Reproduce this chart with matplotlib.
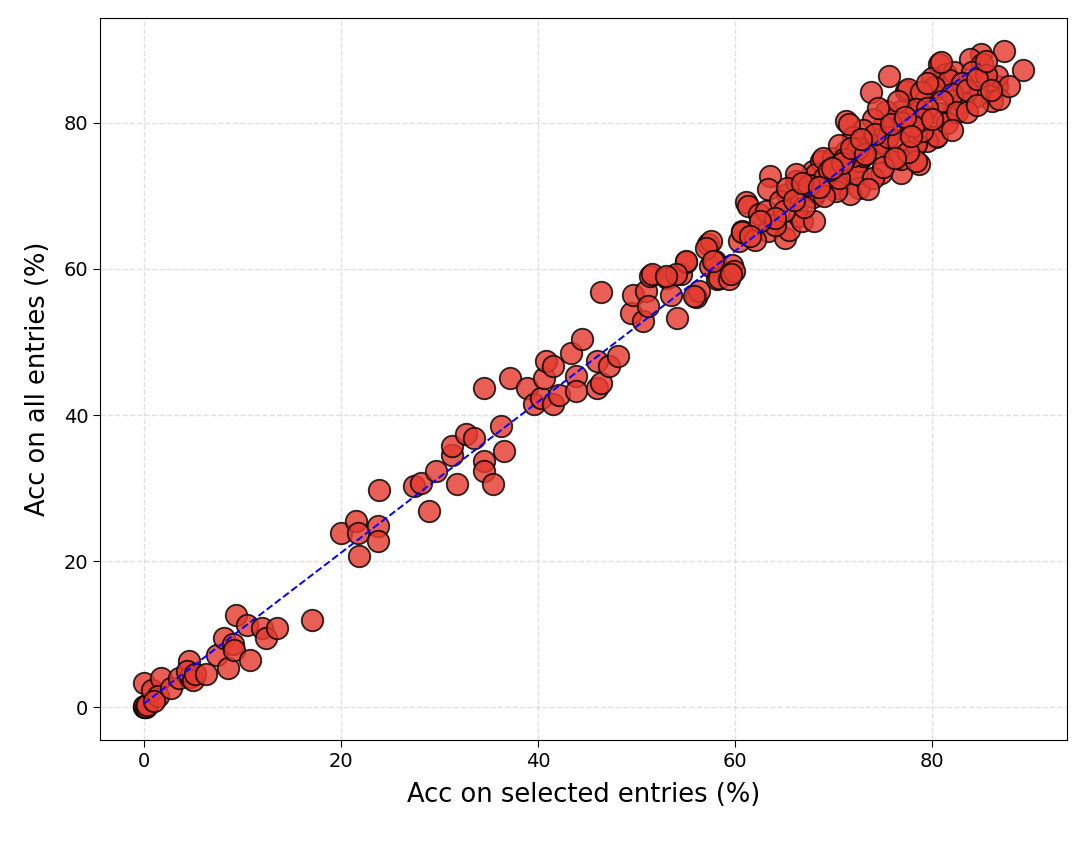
import matplotlib
matplotlib.use("Agg")
import matplotlib.pyplot as plt
import numpy as np

# accuracy on selected entries (x) vs accuracy on all entries (y)
acc_selected = [
    0.0, 0.1, 0.0, 0.2, 0.3, 0.0, 0.8, 1.7, 1.4, 1.0, 2.7, 3.6, 4.6, 4.7, 4.4, 5.0, 5.2, 6.3,
    7.4, 8.1, 8.5, 9.0, 9.3, 9.1, 10.8, 10.5, 12.0, 12.4, 13.5, 17.1,
    20.0, 21.5, 21.7, 21.8, 23.7, 23.7, 23.9, 27.4, 28.1, 28.9, 29.6, 31.3, 31.3, 31.8,
    32.7, 33.5, 34.5, 34.5, 35.4, 34.5, 36.2, 36.5, 37.1, 38.9, 39.6, 40.3, 41.5, 40.6,
    40.8, 41.5, 42.1, 43.3, 43.8, 43.8, 44.5, 46.0, 46.0, 46.4, 47.2, 48.1, 46.4, 49.4,
    49.6, 50.9, 50.6, 51.1, 51.4,
    51.6, 53.1, 53.5, 54.1, 54.5, 55.0, 56.0, 56.3, 57.2, 57.5, 57.4, 57.9, 58.2, 58.4,
    59.4, 59.7, 59.9, 60.4, 60.7, 61.1, 61.3, 62.4, 63.3, 63.1, 63.5, 63.3, 65.1, 65.5,
    65.3, 64.5, 66.2, 66.5, 66.8, 68.0, 67.9, 68.2, 67.9, 68.7, 69.9, 70.4, 71.2, 71.9, 69.9,
    55.8, 55.0, 54.0, 53.0, 57.0, 57.7, 59.6, 60.7,
    89.2, 87.3, 86.6, 86.1, 84.4, 84.9, 83.8, 80.7, 81.4, 80.0, 75.6, 73.8, 77.3, 78.7,
    80.4, 82.4, 82.1, 80.7, 78.7, 76.8, 75.3, 80.4, 79.5, 78.2, 78.7, 76.8, 76.8, 74.8,
    74.9, 76.0, 77.3, 73.6, 72.6, 72.6, 71.6, 72.4, 71.2, 71.2, 70.2, 68.2, 68.9, 66.2, 65.3,
    86.6, 83.1, 82.2, 81.7, 80.9, 80.2, 77.5, 78.9, 78.3, 80.5, 78.3, 75.3, 78.3, 76.0, 79.0,
    86.8, 87.8, 85.0, 84.0, 83.0, 82.0, 81.0, 79.5, 77.0, 75.0, 74.0, 73.0, 72.0, 71.5,
    70.5, 70.0, 69.0, 74.5, 75.5, 76.5, 73.0, 74.0, 72.0, 79.0, 81.5, 82.5, 83.5, 85.5,
    84.5, 62.0, 64.0, 65.0, 67.0, 69.0, 70.5, 73.5, 75.0, 77.5, 78.0, 80.0, 82.0, 83.5,
    84.5, 86.0, 85.5, 79.5, 76.5, 74.5, 72.5, 71.0, 69.5, 67.5, 66.0, 64.0, 62.5, 61.5,
    70.8, 71.8, 73.2, 74.2, 75.8, 77.2, 66.8, 68.5, 69.8, 72.8, 76.2, 77.8,
]
acc_all = [
    0.0, 0.0, 0.2, 0.1, 0.3, 3.3, 2.4, 4.0, 1.5, 0.8, 2.6, 4.0, 6.3, 4.2, 4.9, 3.8, 4.5, 4.5,
    7.2, 9.5, 5.4, 8.6, 12.7, 7.9, 6.5, 11.3, 10.9, 9.5, 10.9, 12.0,
    23.9, 25.5, 23.9, 20.7, 24.8, 22.7, 29.8, 30.3, 30.7, 26.8, 32.3, 34.6, 35.8, 30.5,
    37.4, 36.9, 33.7, 32.3, 30.6, 43.7, 38.5, 35.1, 45.1, 43.7, 41.5, 42.4, 41.5, 45.1,
    47.4, 46.7, 42.8, 48.5, 45.3, 43.3, 50.4, 47.4, 43.7, 44.4, 46.7, 48.1, 56.8, 54.0,
    56.5, 57.0, 52.9, 54.9, 59.0,
    59.3, 58.8, 56.5, 53.3, 59.3, 60.9, 56.1, 57.0, 63.4, 63.8, 60.4, 61.1, 58.6, 58.8,
    58.6, 60.6, 59.7, 63.8, 65.2, 69.1, 68.6, 67.5, 65.2, 67.9, 72.7, 70.9, 64.3, 65.4,
    70.2, 69.3, 72.1, 67.3, 66.6, 66.6, 69.8, 70.5, 73.4, 74.8, 71.6, 71.1, 72.5, 73.4, 75.2,
    56.3, 61.1, 59.3, 59.0, 62.9, 61.1, 59.3, 65.0,
    87.3, 89.9, 85.1, 83.0, 83.7, 89.4, 88.7, 88.1, 86.7, 86.2, 86.4, 84.2, 84.4, 83.5,
    84.6, 83.2, 81.4, 81.4, 81.6, 81.6, 81.6, 78.0, 77.5, 77.1, 74.3, 73.2, 75.0, 73.2,
    77.1, 79.1, 78.9, 77.1, 74.8, 71.1, 70.2, 73.0, 76.2, 80.3, 70.7, 73.0, 75.2, 73.0, 71.1,
    86.4, 82.8, 86.9, 85.8, 88.3, 84.9, 84.6, 84.2, 81.9, 78.2, 77.1, 77.1, 74.8, 75.2, 78.9,
    83.3, 85.1, 88.0, 87.0, 85.5, 84.0, 83.0, 82.0, 80.0, 79.5, 80.5, 79.0, 78.0, 79.8,
    77.0, 74.0, 72.5, 76.0, 78.0, 77.5, 75.5, 72.5, 75.5, 80.5, 80.0, 81.5, 84.5, 86.5,
    86.0, 64.0, 66.0, 68.0, 68.5, 70.0, 72.5, 71.0, 74.0, 76.0, 79.5, 80.5, 79.0, 81.5,
    82.5, 84.5, 88.5, 85.5, 83.0, 82.0, 76.5, 75.0, 73.5, 71.5, 69.5, 67.0, 66.5, 64.5,
    74.5, 76.5, 75.8, 78.5, 79.8, 80.8, 71.8, 71.2, 73.8, 77.8, 75.2, 78.2,
]

# dashed reference line endpoints
line_x = [0.0, 84.8]
line_y = [0.5, 88.1]

fig = plt.figure(figsize=(10.92, 8.42), dpi=100)
ax = fig.add_axes([0.0916, 0.121, 0.8854, 0.858])

ax.scatter(acc_selected, acc_all, s=240, color='#e53b30', alpha=0.82,
           edgecolors='black', linewidths=1.3, zorder=3)
ax.plot(line_x, line_y, '--', color='blue', linewidth=1.4, zorder=4)

ax.set_xlabel('Acc on selected entries (%)', fontsize=18.5, labelpad=8)
ax.set_ylabel('Acc on all entries (%)', fontsize=18.5, labelpad=9)
ax.tick_params(labelsize=14, length=5)
ax.set_xticks([0, 20, 40, 60, 80])
ax.set_yticks([0, 20, 40, 60, 80])
ax.grid(True, linestyle='--', color='#cccccc', alpha=0.6, linewidth=1)
ax.set_axisbelow(True)

fig.savefig('out.png', dpi=100)
